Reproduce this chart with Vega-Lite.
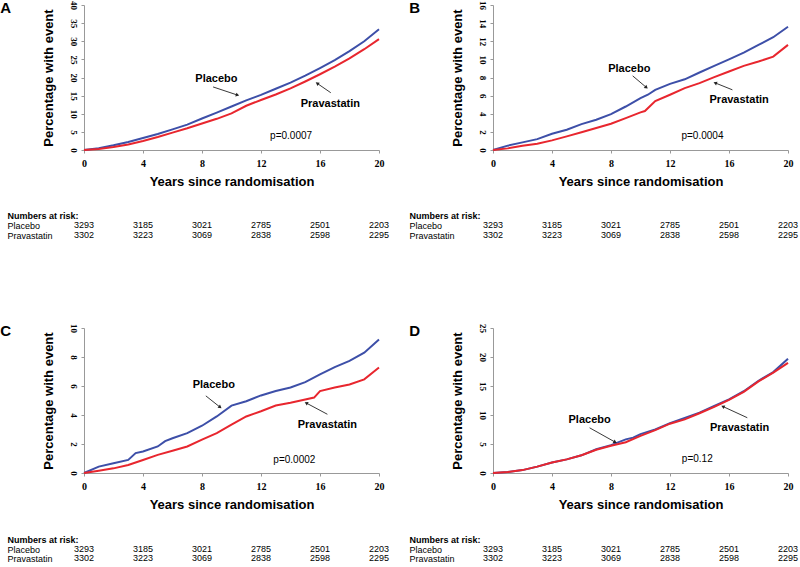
{
 "$schema": "https://vega.github.io/schema/vega-lite/v6.json",
 "padding": 0,
 "background": "white",
 "config": {"view": {"stroke": null}, "axis": {"grid": false, "domainColor": "#999", "tickColor": "#999", "labelColor": "#000", "titleColor": "#000", "labelOverlap": false}},
 "datasets": {
  "curves": [
   {"panel":"A","group":"Placebo","year":0,"pct":0},{"panel":"A","group":"Placebo","year":1,"pct":0.5},{"panel":"A","group":"Placebo","year":2,"pct":1.3},{"panel":"A","group":"Placebo","year":3,"pct":2.2},{"panel":"A","group":"Placebo","year":4,"pct":3.3},{"panel":"A","group":"Placebo","year":5,"pct":4.4},{"panel":"A","group":"Placebo","year":6,"pct":5.7},{"panel":"A","group":"Placebo","year":7,"pct":7.0},{"panel":"A","group":"Placebo","year":8,"pct":8.7},{"panel":"A","group":"Placebo","year":9,"pct":10.3},{"panel":"A","group":"Placebo","year":10,"pct":12.0},{"panel":"A","group":"Placebo","year":11,"pct":13.7},{"panel":"A","group":"Placebo","year":12,"pct":15.2},{"panel":"A","group":"Placebo","year":13,"pct":16.9},{"panel":"A","group":"Placebo","year":14,"pct":18.6},{"panel":"A","group":"Placebo","year":15,"pct":20.5},{"panel":"A","group":"Placebo","year":16,"pct":22.6},{"panel":"A","group":"Placebo","year":17,"pct":24.8},{"panel":"A","group":"Placebo","year":18,"pct":27.3},{"panel":"A","group":"Placebo","year":19,"pct":30.0},{"panel":"A","group":"Placebo","year":20,"pct":33.3},
   {"panel":"A","group":"Pravastatin","year":0,"pct":0},{"panel":"A","group":"Pravastatin","year":1,"pct":0.3},{"panel":"A","group":"Pravastatin","year":2,"pct":0.8},{"panel":"A","group":"Pravastatin","year":3,"pct":1.5},{"panel":"A","group":"Pravastatin","year":4,"pct":2.5},{"panel":"A","group":"Pravastatin","year":5,"pct":3.6},{"panel":"A","group":"Pravastatin","year":6,"pct":4.8},{"panel":"A","group":"Pravastatin","year":7,"pct":6.0},{"panel":"A","group":"Pravastatin","year":8,"pct":7.3},{"panel":"A","group":"Pravastatin","year":9,"pct":8.6},{"panel":"A","group":"Pravastatin","year":10,"pct":10.1},{"panel":"A","group":"Pravastatin","year":11,"pct":12.2},{"panel":"A","group":"Pravastatin","year":12,"pct":13.8},{"panel":"A","group":"Pravastatin","year":13,"pct":15.3},{"panel":"A","group":"Pravastatin","year":14,"pct":17.0},{"panel":"A","group":"Pravastatin","year":15,"pct":18.9},{"panel":"A","group":"Pravastatin","year":16,"pct":20.9},{"panel":"A","group":"Pravastatin","year":17,"pct":23.0},{"panel":"A","group":"Pravastatin","year":18,"pct":25.3},{"panel":"A","group":"Pravastatin","year":19,"pct":27.8},{"panel":"A","group":"Pravastatin","year":20,"pct":30.6},
   {"panel":"B","group":"Placebo","year":0,"pct":0},{"panel":"B","group":"Placebo","year":1,"pct":0.48},{"panel":"B","group":"Placebo","year":2,"pct":0.84},{"panel":"B","group":"Placebo","year":3,"pct":1.2},{"panel":"B","group":"Placebo","year":4,"pct":1.8},{"panel":"B","group":"Placebo","year":5,"pct":2.24},{"panel":"B","group":"Placebo","year":6,"pct":2.86},{"panel":"B","group":"Placebo","year":7,"pct":3.34},{"panel":"B","group":"Placebo","year":8,"pct":3.96},{"panel":"B","group":"Placebo","year":9,"pct":4.8},{"panel":"B","group":"Placebo","year":10,"pct":5.72},{"panel":"B","group":"Placebo","year":10.5,"pct":6.1},{"panel":"B","group":"Placebo","year":11,"pct":6.64},{"panel":"B","group":"Placebo","year":12,"pct":7.3},{"panel":"B","group":"Placebo","year":13,"pct":7.8},{"panel":"B","group":"Placebo","year":14,"pct":8.55},{"panel":"B","group":"Placebo","year":15,"pct":9.28},{"panel":"B","group":"Placebo","year":16,"pct":10.0},{"panel":"B","group":"Placebo","year":17,"pct":10.75},{"panel":"B","group":"Placebo","year":18,"pct":11.6},{"panel":"B","group":"Placebo","year":19,"pct":12.44},{"panel":"B","group":"Placebo","year":20,"pct":13.6},
   {"panel":"B","group":"Pravastatin","year":0,"pct":0},{"panel":"B","group":"Pravastatin","year":1,"pct":0.18},{"panel":"B","group":"Pravastatin","year":2,"pct":0.48},{"panel":"B","group":"Pravastatin","year":3,"pct":0.7},{"panel":"B","group":"Pravastatin","year":4,"pct":1.06},{"panel":"B","group":"Pravastatin","year":5,"pct":1.5},{"panel":"B","group":"Pravastatin","year":6,"pct":1.95},{"panel":"B","group":"Pravastatin","year":7,"pct":2.42},{"panel":"B","group":"Pravastatin","year":8,"pct":2.9},{"panel":"B","group":"Pravastatin","year":9,"pct":3.52},{"panel":"B","group":"Pravastatin","year":10,"pct":4.15},{"panel":"B","group":"Pravastatin","year":10.3,"pct":4.3},{"panel":"B","group":"Pravastatin","year":11,"pct":5.4},{"panel":"B","group":"Pravastatin","year":12,"pct":6.1},{"panel":"B","group":"Pravastatin","year":13,"pct":6.83},{"panel":"B","group":"Pravastatin","year":14,"pct":7.38},{"panel":"B","group":"Pravastatin","year":15,"pct":8.04},{"panel":"B","group":"Pravastatin","year":16,"pct":8.66},{"panel":"B","group":"Pravastatin","year":17,"pct":9.28},{"panel":"B","group":"Pravastatin","year":18,"pct":9.76},{"panel":"B","group":"Pravastatin","year":19,"pct":10.3},{"panel":"B","group":"Pravastatin","year":20,"pct":11.6},
   {"panel":"C","group":"Placebo","year":0,"pct":0},{"panel":"C","group":"Placebo","year":1,"pct":0.44},{"panel":"C","group":"Placebo","year":2,"pct":0.67},{"panel":"C","group":"Placebo","year":3,"pct":0.9},{"panel":"C","group":"Placebo","year":3.5,"pct":1.37},{"panel":"C","group":"Placebo","year":4,"pct":1.48},{"panel":"C","group":"Placebo","year":5,"pct":1.83},{"panel":"C","group":"Placebo","year":5.5,"pct":2.2},{"panel":"C","group":"Placebo","year":6,"pct":2.4},{"panel":"C","group":"Placebo","year":7,"pct":2.75},{"panel":"C","group":"Placebo","year":8,"pct":3.26},{"panel":"C","group":"Placebo","year":9,"pct":3.9},{"panel":"C","group":"Placebo","year":10,"pct":4.65},{"panel":"C","group":"Placebo","year":11,"pct":4.95},{"panel":"C","group":"Placebo","year":12,"pct":5.35},{"panel":"C","group":"Placebo","year":13,"pct":5.65},{"panel":"C","group":"Placebo","year":14,"pct":5.9},{"panel":"C","group":"Placebo","year":15,"pct":6.27},{"panel":"C","group":"Placebo","year":16,"pct":6.8},{"panel":"C","group":"Placebo","year":17,"pct":7.3},{"panel":"C","group":"Placebo","year":18,"pct":7.73},{"panel":"C","group":"Placebo","year":19,"pct":8.3},{"panel":"C","group":"Placebo","year":20,"pct":9.2},
   {"panel":"C","group":"Pravastatin","year":0,"pct":0},{"panel":"C","group":"Pravastatin","year":1,"pct":0.16},{"panel":"C","group":"Pravastatin","year":2,"pct":0.32},{"panel":"C","group":"Pravastatin","year":3,"pct":0.55},{"panel":"C","group":"Pravastatin","year":4,"pct":0.9},{"panel":"C","group":"Pravastatin","year":5,"pct":1.25},{"panel":"C","group":"Pravastatin","year":6,"pct":1.53},{"panel":"C","group":"Pravastatin","year":7,"pct":1.83},{"panel":"C","group":"Pravastatin","year":8,"pct":2.3},{"panel":"C","group":"Pravastatin","year":9,"pct":2.75},{"panel":"C","group":"Pravastatin","year":10,"pct":3.33},{"panel":"C","group":"Pravastatin","year":11,"pct":3.9},{"panel":"C","group":"Pravastatin","year":12,"pct":4.26},{"panel":"C","group":"Pravastatin","year":13,"pct":4.65},{"panel":"C","group":"Pravastatin","year":14,"pct":4.84},{"panel":"C","group":"Pravastatin","year":15,"pct":5.07},{"panel":"C","group":"Pravastatin","year":15.6,"pct":5.2},{"panel":"C","group":"Pravastatin","year":16,"pct":5.65},{"panel":"C","group":"Pravastatin","year":17,"pct":5.9},{"panel":"C","group":"Pravastatin","year":18,"pct":6.1},{"panel":"C","group":"Pravastatin","year":19,"pct":6.46},{"panel":"C","group":"Pravastatin","year":20,"pct":7.27},
   {"panel":"D","group":"Placebo","year":0,"pct":0},{"panel":"D","group":"Placebo","year":1,"pct":0.17},{"panel":"D","group":"Placebo","year":2,"pct":0.5},{"panel":"D","group":"Placebo","year":3,"pct":1.1},{"panel":"D","group":"Placebo","year":4,"pct":1.8},{"panel":"D","group":"Placebo","year":5,"pct":2.35},{"panel":"D","group":"Placebo","year":6,"pct":3.05},{"panel":"D","group":"Placebo","year":7,"pct":4.1},{"panel":"D","group":"Placebo","year":8,"pct":4.8},{"panel":"D","group":"Placebo","year":9,"pct":5.8},{"panel":"D","group":"Placebo","year":9.5,"pct":6.1},{"panel":"D","group":"Placebo","year":10,"pct":6.7},{"panel":"D","group":"Placebo","year":11,"pct":7.5},{"panel":"D","group":"Placebo","year":12,"pct":8.6},{"panel":"D","group":"Placebo","year":13,"pct":9.5},{"panel":"D","group":"Placebo","year":14,"pct":10.4},{"panel":"D","group":"Placebo","year":15,"pct":11.55},{"panel":"D","group":"Placebo","year":16,"pct":12.7},{"panel":"D","group":"Placebo","year":17,"pct":14.1},{"panel":"D","group":"Placebo","year":18,"pct":15.9},{"panel":"D","group":"Placebo","year":19,"pct":17.4},{"panel":"D","group":"Placebo","year":20,"pct":19.7},
   {"panel":"D","group":"Pravastatin","year":0,"pct":0},{"panel":"D","group":"Pravastatin","year":1,"pct":0.17},{"panel":"D","group":"Pravastatin","year":2,"pct":0.5},{"panel":"D","group":"Pravastatin","year":3,"pct":1.1},{"panel":"D","group":"Pravastatin","year":4,"pct":1.8},{"panel":"D","group":"Pravastatin","year":5,"pct":2.35},{"panel":"D","group":"Pravastatin","year":6,"pct":3.05},{"panel":"D","group":"Pravastatin","year":7,"pct":4.0},{"panel":"D","group":"Pravastatin","year":8,"pct":4.7},{"panel":"D","group":"Pravastatin","year":9,"pct":5.3},{"panel":"D","group":"Pravastatin","year":10,"pct":6.4},{"panel":"D","group":"Pravastatin","year":11,"pct":7.4},{"panel":"D","group":"Pravastatin","year":12,"pct":8.5},{"panel":"D","group":"Pravastatin","year":13,"pct":9.25},{"panel":"D","group":"Pravastatin","year":14,"pct":10.3},{"panel":"D","group":"Pravastatin","year":15,"pct":11.4},{"panel":"D","group":"Pravastatin","year":16,"pct":12.6},{"panel":"D","group":"Pravastatin","year":17,"pct":14.0},{"panel":"D","group":"Pravastatin","year":18,"pct":15.8},{"panel":"D","group":"Pravastatin","year":19,"pct":17.3},{"panel":"D","group":"Pravastatin","year":20,"pct":19.0}
  ],
  "arrows": [
   {"panel":"A","x":8.75,"y":17.4,"x2":10.37,"y2":15.2,"angle":108},
   {"panel":"A","x":16.73,"y":15.8,"x2":15.84,"y2":18.3,"angle":304},
   {"panel":"B","x":9.47,"y":8.18,"x2":10.37,"y2":6.94,"angle":130},
   {"panel":"B","x":16.23,"y":6.64,"x2":15.1,"y2":7.38,"angle":292},
   {"panel":"C","x":8.26,"y":5.32,"x2":9.2,"y2":4.56,"angle":128},
   {"panel":"C","x":16.5,"y":4.05,"x2":15.1,"y2":4.81,"angle":298},
   {"panel":"D","x":6.55,"y":7.79,"x2":8.25,"y2":5.37,"angle":119},
   {"panel":"D","x":17.24,"y":9.53,"x2":15.62,"y2":11.43,"angle":295}
  ],
  "labels": [
   {"panel":"A","label":"Placebo","x":8.98,"y":19.7},{"panel":"A","label":"Pravastatin","x":16.7,"y":12.8},
   {"panel":"B","label":"Placebo","x":9.24,"y":8.95},{"panel":"B","label":"Pravastatin","x":16.69,"y":5.47},
   {"panel":"C","label":"Placebo","x":8.8,"y":6.09},{"panel":"C","label":"Pravastatin","x":16.5,"y":3.31},
   {"panel":"D","label":"Placebo","x":6.55,"y":9.12},{"panel":"D","label":"Pravastatin","x":16.72,"y":7.79}
  ],
  "pvals": [
   {"panel":"A","label":"p=0.0007","x":14.04,"y":3.86},
   {"panel":"B","label":"p=0.0004","x":14.2,"y":1.58},
   {"panel":"C","label":"p=0.0002","x":14.26,"y":0.93},
   {"panel":"D","label":"p=0.12","x":13.85,"y":2.42}
  ],
  "risk": [
   {"group":"Placebo","year":0,"n":3293},{"group":"Placebo","year":4,"n":3185},{"group":"Placebo","year":8,"n":3021},{"group":"Placebo","year":12,"n":2785},{"group":"Placebo","year":16,"n":2501},{"group":"Placebo","year":20,"n":2203},
   {"group":"Pravastatin","year":0,"n":3302},{"group":"Pravastatin","year":4,"n":3223},{"group":"Pravastatin","year":8,"n":3069},{"group":"Pravastatin","year":12,"n":2838},{"group":"Pravastatin","year":16,"n":2598},{"group":"Pravastatin","year":20,"n":2295}
  ]
 },
 "vconcat": [
  {"hconcat": [
   {"spacing": 22, "vconcat": [
    {"width": 295, "height": 145,
     "title": {"text": "A", "orient": "left", "anchor": "end", "angle": 0, "align": "right", "baseline": "top", "fontSize": 15, "fontWeight": "bold", "font": "Liberation Sans", "offset": 20, "color": "#000"},
     "layer": [
      {"data": {"name": "curves"}, "transform": [{"filter": "datum.panel === 'A'"}], "mark": {"type": "line", "strokeWidth": 2},
       "encoding": {
        "x": {"field": "year", "type": "quantitative", "scale": {"domain": [0, 20], "nice": false}, "axis": {"title": "Years since randomisation", "values": [0, 4, 8, 12, 16, 20], "tickCount": 20, "format": "d", "labelFont": "Liberation Serif", "labelFontWeight": "bold", "labelFontSize": 10, "labelPadding": 5, "labelFlush": false, "tickSize": 3, "titlePadding": 7, "titleFont": "Liberation Sans", "titleFontSize": 13, "titleFontWeight": "bold"}},
        "y": {"field": "pct", "type": "quantitative", "scale": {"domain": [0, 40], "nice": false}, "axis": {"title": "Percentage with event", "values": [0, 5, 10, 15, 20, 25, 30, 35, 40], "tickCount": 20, "format": "d", "labelFont": "Liberation Serif", "labelFontWeight": "bold", "labelFontSize": 9, "labelAngle": 90, "labelAlign": "center", "labelBaseline": "top", "labelPadding": 4, "labelFlush": false, "tickSize": 3, "titlePadding": 13, "titleFont": "Liberation Sans", "titleFontSize": 13, "titleFontWeight": "bold"}},
        "color": {"field": "group", "type": "nominal", "scale": {"domain": ["Placebo", "Pravastatin"], "range": ["#3D4FA8", "#E8262E"]}, "legend": null}
       }},
      {"data": {"name": "arrows"}, "transform": [{"filter": "datum.panel === 'A'"}], "mark": {"type": "rule", "color": "#222", "strokeWidth": 0.9},
       "encoding": {"x": {"field": "x", "type": "quantitative"}, "y": {"field": "y", "type": "quantitative"}, "x2": {"field": "x2"}, "y2": {"field": "y2"}}},
      {"data": {"name": "arrows"}, "transform": [{"filter": "datum.panel === 'A'"}], "mark": {"type": "point", "shape": "triangle", "filled": true, "color": "#222", "size": 16, "opacity": 1},
       "encoding": {"x": {"field": "x2", "type": "quantitative"}, "y": {"field": "y2", "type": "quantitative"}, "angle": {"field": "angle", "type": "quantitative", "scale": null}}},
      {"data": {"name": "labels"}, "transform": [{"filter": "datum.panel === 'A'"}], "mark": {"type": "text", "font": "Liberation Sans", "fontSize": 11, "fontWeight": "bold", "color": "#000"},
       "encoding": {"x": {"field": "x", "type": "quantitative"}, "y": {"field": "y", "type": "quantitative"}, "text": {"field": "label"}}},
      {"data": {"name": "pvals"}, "transform": [{"filter": "datum.panel === 'A'"}], "mark": {"type": "text", "font": "Liberation Sans", "fontSize": 10, "color": "#000"},
       "encoding": {"x": {"field": "x", "type": "quantitative"}, "y": {"field": "y", "type": "quantitative"}, "text": {"field": "label"}}}
     ]},
    {"width": 295, "height": 30, "data": {"name": "risk"},
     "mark": {"type": "text", "font": "Liberation Sans", "fontSize": 9, "color": "#000"},
     "encoding": {
      "x": {"field": "year", "type": "quantitative", "scale": {"domain": [0, 20], "nice": false}, "axis": null},
      "y": {"field": "group", "type": "nominal", "scale": {"type": "point", "domain": ["Numbers at risk:", "Placebo", "Pravastatin"], "padding": 0.5}, "axis": {"title": null, "domain": false, "ticks": false, "labelAlign": "left", "labelAngle": 0, "labelBaseline": "middle", "labelPadding": 77, "labelFont": "Liberation Sans", "labelFontSize": 9, "labelFontWeight": {"condition": {"test": "datum.value === 'Numbers at risk:'", "value": "bold"}, "value": "normal"}}},
      "text": {"field": "n"}
     }}
   ]},
   {"spacing": 22, "vconcat": [
    {"width": 295, "height": 145,
     "title": {"text": "B", "orient": "left", "anchor": "end", "angle": 0, "align": "right", "baseline": "top", "fontSize": 15, "fontWeight": "bold", "font": "Liberation Sans", "offset": 20, "color": "#000"},
     "layer": [
      {"data": {"name": "curves"}, "transform": [{"filter": "datum.panel === 'B'"}], "mark": {"type": "line", "strokeWidth": 2},
       "encoding": {
        "x": {"field": "year", "type": "quantitative", "scale": {"domain": [0, 20], "nice": false}, "axis": {"title": "Years since randomisation", "values": [0, 4, 8, 12, 16, 20], "tickCount": 20, "format": "d", "labelFont": "Liberation Serif", "labelFontWeight": "bold", "labelFontSize": 10, "labelPadding": 5, "labelFlush": false, "tickSize": 3, "titlePadding": 7, "titleFont": "Liberation Sans", "titleFontSize": 13, "titleFontWeight": "bold"}},
        "y": {"field": "pct", "type": "quantitative", "scale": {"domain": [0, 16], "nice": false}, "axis": {"title": "Percentage with event", "values": [0, 2, 4, 6, 8, 10, 12, 14, 16], "tickCount": 20, "format": "d", "labelFont": "Liberation Serif", "labelFontWeight": "bold", "labelFontSize": 9, "labelAngle": 90, "labelAlign": "center", "labelBaseline": "top", "labelPadding": 4, "labelFlush": false, "tickSize": 3, "titlePadding": 13, "titleFont": "Liberation Sans", "titleFontSize": 13, "titleFontWeight": "bold"}},
        "color": {"field": "group", "type": "nominal", "scale": {"domain": ["Placebo", "Pravastatin"], "range": ["#3D4FA8", "#E8262E"]}, "legend": null}
       }},
      {"data": {"name": "arrows"}, "transform": [{"filter": "datum.panel === 'B'"}], "mark": {"type": "rule", "color": "#222", "strokeWidth": 0.9},
       "encoding": {"x": {"field": "x", "type": "quantitative"}, "y": {"field": "y", "type": "quantitative"}, "x2": {"field": "x2"}, "y2": {"field": "y2"}}},
      {"data": {"name": "arrows"}, "transform": [{"filter": "datum.panel === 'B'"}], "mark": {"type": "point", "shape": "triangle", "filled": true, "color": "#222", "size": 16, "opacity": 1},
       "encoding": {"x": {"field": "x2", "type": "quantitative"}, "y": {"field": "y2", "type": "quantitative"}, "angle": {"field": "angle", "type": "quantitative", "scale": null}}},
      {"data": {"name": "labels"}, "transform": [{"filter": "datum.panel === 'B'"}], "mark": {"type": "text", "font": "Liberation Sans", "fontSize": 11, "fontWeight": "bold", "color": "#000"},
       "encoding": {"x": {"field": "x", "type": "quantitative"}, "y": {"field": "y", "type": "quantitative"}, "text": {"field": "label"}}},
      {"data": {"name": "pvals"}, "transform": [{"filter": "datum.panel === 'B'"}], "mark": {"type": "text", "font": "Liberation Sans", "fontSize": 10, "color": "#000"},
       "encoding": {"x": {"field": "x", "type": "quantitative"}, "y": {"field": "y", "type": "quantitative"}, "text": {"field": "label"}}}
     ]},
    {"width": 295, "height": 30, "data": {"name": "risk"},
     "mark": {"type": "text", "font": "Liberation Sans", "fontSize": 9, "color": "#000"},
     "encoding": {
      "x": {"field": "year", "type": "quantitative", "scale": {"domain": [0, 20], "nice": false}, "axis": null},
      "y": {"field": "group", "type": "nominal", "scale": {"type": "point", "domain": ["Numbers at risk:", "Placebo", "Pravastatin"], "padding": 0.5}, "axis": {"title": null, "domain": false, "ticks": false, "labelAlign": "left", "labelAngle": 0, "labelBaseline": "middle", "labelPadding": 84, "labelFont": "Liberation Sans", "labelFontSize": 9, "labelFontWeight": {"condition": {"test": "datum.value === 'Numbers at risk:'", "value": "bold"}, "value": "normal"}}},
      "text": {"field": "n"}
     }}
   ]}
  ], "spacing": 19},
  {"hconcat": [
   {"spacing": 24, "vconcat": [
    {"width": 295, "height": 145,
     "title": {"text": "C", "orient": "left", "anchor": "end", "angle": 0, "align": "right", "baseline": "top", "fontSize": 15, "fontWeight": "bold", "font": "Liberation Sans", "offset": 20, "color": "#000"},
     "layer": [
      {"data": {"name": "curves"}, "transform": [{"filter": "datum.panel === 'C'"}], "mark": {"type": "line", "strokeWidth": 2},
       "encoding": {
        "x": {"field": "year", "type": "quantitative", "scale": {"domain": [0, 20], "nice": false}, "axis": {"title": "Years since randomisation", "values": [0, 4, 8, 12, 16, 20], "tickCount": 20, "format": "d", "labelFont": "Liberation Serif", "labelFontWeight": "bold", "labelFontSize": 10, "labelPadding": 5, "labelFlush": false, "tickSize": 3, "titlePadding": 7, "titleFont": "Liberation Sans", "titleFontSize": 13, "titleFontWeight": "bold"}},
        "y": {"field": "pct", "type": "quantitative", "scale": {"domain": [0, 10], "nice": false}, "axis": {"title": "Percentage with event", "values": [0, 2, 4, 6, 8, 10], "tickCount": 20, "format": "d", "labelFont": "Liberation Serif", "labelFontWeight": "bold", "labelFontSize": 9, "labelAngle": 90, "labelAlign": "center", "labelBaseline": "top", "labelPadding": 4, "labelFlush": false, "tickSize": 3, "titlePadding": 13, "titleFont": "Liberation Sans", "titleFontSize": 13, "titleFontWeight": "bold"}},
        "color": {"field": "group", "type": "nominal", "scale": {"domain": ["Placebo", "Pravastatin"], "range": ["#3D4FA8", "#E8262E"]}, "legend": null}
       }},
      {"data": {"name": "arrows"}, "transform": [{"filter": "datum.panel === 'C'"}], "mark": {"type": "rule", "color": "#222", "strokeWidth": 0.9},
       "encoding": {"x": {"field": "x", "type": "quantitative"}, "y": {"field": "y", "type": "quantitative"}, "x2": {"field": "x2"}, "y2": {"field": "y2"}}},
      {"data": {"name": "arrows"}, "transform": [{"filter": "datum.panel === 'C'"}], "mark": {"type": "point", "shape": "triangle", "filled": true, "color": "#222", "size": 16, "opacity": 1},
       "encoding": {"x": {"field": "x2", "type": "quantitative"}, "y": {"field": "y2", "type": "quantitative"}, "angle": {"field": "angle", "type": "quantitative", "scale": null}}},
      {"data": {"name": "labels"}, "transform": [{"filter": "datum.panel === 'C'"}], "mark": {"type": "text", "font": "Liberation Sans", "fontSize": 11, "fontWeight": "bold", "color": "#000"},
       "encoding": {"x": {"field": "x", "type": "quantitative"}, "y": {"field": "y", "type": "quantitative"}, "text": {"field": "label"}}},
      {"data": {"name": "pvals"}, "transform": [{"filter": "datum.panel === 'C'"}], "mark": {"type": "text", "font": "Liberation Sans", "fontSize": 10, "color": "#000"},
       "encoding": {"x": {"field": "x", "type": "quantitative"}, "y": {"field": "y", "type": "quantitative"}, "text": {"field": "label"}}}
     ]},
    {"width": 295, "height": 28, "data": {"name": "risk"},
     "mark": {"type": "text", "font": "Liberation Sans", "fontSize": 9, "color": "#000"},
     "encoding": {
      "x": {"field": "year", "type": "quantitative", "scale": {"domain": [0, 20], "nice": false}, "axis": null},
      "y": {"field": "group", "type": "nominal", "scale": {"type": "point", "domain": ["Numbers at risk:", "Placebo", "Pravastatin"], "padding": 0.5}, "axis": {"title": null, "domain": false, "ticks": false, "labelAlign": "left", "labelAngle": 0, "labelBaseline": "middle", "labelPadding": 77, "labelFont": "Liberation Sans", "labelFontSize": 9, "labelFontWeight": {"condition": {"test": "datum.value === 'Numbers at risk:'", "value": "bold"}, "value": "normal"}}},
      "text": {"field": "n"}
     }}
   ]},
   {"spacing": 24, "vconcat": [
    {"width": 295, "height": 145,
     "title": {"text": "D", "orient": "left", "anchor": "end", "angle": 0, "align": "right", "baseline": "top", "fontSize": 15, "fontWeight": "bold", "font": "Liberation Sans", "offset": 20, "color": "#000"},
     "layer": [
      {"data": {"name": "curves"}, "transform": [{"filter": "datum.panel === 'D'"}], "mark": {"type": "line", "strokeWidth": 2},
       "encoding": {
        "x": {"field": "year", "type": "quantitative", "scale": {"domain": [0, 20], "nice": false}, "axis": {"title": "Years since randomisation", "values": [0, 4, 8, 12, 16, 20], "tickCount": 20, "format": "d", "labelFont": "Liberation Serif", "labelFontWeight": "bold", "labelFontSize": 10, "labelPadding": 5, "labelFlush": false, "tickSize": 3, "titlePadding": 7, "titleFont": "Liberation Sans", "titleFontSize": 13, "titleFontWeight": "bold"}},
        "y": {"field": "pct", "type": "quantitative", "scale": {"domain": [0, 25], "nice": false}, "axis": {"title": "Percentage with event", "values": [0, 5, 10, 15, 20, 25], "tickCount": 20, "format": "d", "labelFont": "Liberation Serif", "labelFontWeight": "bold", "labelFontSize": 9, "labelAngle": 90, "labelAlign": "center", "labelBaseline": "top", "labelPadding": 4, "labelFlush": false, "tickSize": 3, "titlePadding": 13, "titleFont": "Liberation Sans", "titleFontSize": 13, "titleFontWeight": "bold"}},
        "color": {"field": "group", "type": "nominal", "scale": {"domain": ["Placebo", "Pravastatin"], "range": ["#3D4FA8", "#E8262E"]}, "legend": null}
       }},
      {"data": {"name": "arrows"}, "transform": [{"filter": "datum.panel === 'D'"}], "mark": {"type": "rule", "color": "#222", "strokeWidth": 0.9},
       "encoding": {"x": {"field": "x", "type": "quantitative"}, "y": {"field": "y", "type": "quantitative"}, "x2": {"field": "x2"}, "y2": {"field": "y2"}}},
      {"data": {"name": "arrows"}, "transform": [{"filter": "datum.panel === 'D'"}], "mark": {"type": "point", "shape": "triangle", "filled": true, "color": "#222", "size": 16, "opacity": 1},
       "encoding": {"x": {"field": "x2", "type": "quantitative"}, "y": {"field": "y2", "type": "quantitative"}, "angle": {"field": "angle", "type": "quantitative", "scale": null}}},
      {"data": {"name": "labels"}, "transform": [{"filter": "datum.panel === 'D'"}], "mark": {"type": "text", "font": "Liberation Sans", "fontSize": 11, "fontWeight": "bold", "color": "#000"},
       "encoding": {"x": {"field": "x", "type": "quantitative"}, "y": {"field": "y", "type": "quantitative"}, "text": {"field": "label"}}},
      {"data": {"name": "pvals"}, "transform": [{"filter": "datum.panel === 'D'"}], "mark": {"type": "text", "font": "Liberation Sans", "fontSize": 10, "color": "#000"},
       "encoding": {"x": {"field": "x", "type": "quantitative"}, "y": {"field": "y", "type": "quantitative"}, "text": {"field": "label"}}}
     ]},
    {"width": 295, "height": 28, "data": {"name": "risk"},
     "mark": {"type": "text", "font": "Liberation Sans", "fontSize": 9, "color": "#000"},
     "encoding": {
      "x": {"field": "year", "type": "quantitative", "scale": {"domain": [0, 20], "nice": false}, "axis": null},
      "y": {"field": "group", "type": "nominal", "scale": {"type": "point", "domain": ["Numbers at risk:", "Placebo", "Pravastatin"], "padding": 0.5}, "axis": {"title": null, "domain": false, "ticks": false, "labelAlign": "left", "labelAngle": 0, "labelBaseline": "middle", "labelPadding": 84, "labelFont": "Liberation Sans", "labelFontSize": 9, "labelFontWeight": {"condition": {"test": "datum.value === 'Numbers at risk:'", "value": "bold"}, "value": "normal"}}},
      "text": {"field": "n"}
     }}
   ]}
  ], "spacing": 19}
 ],
 "spacing": 83
}
